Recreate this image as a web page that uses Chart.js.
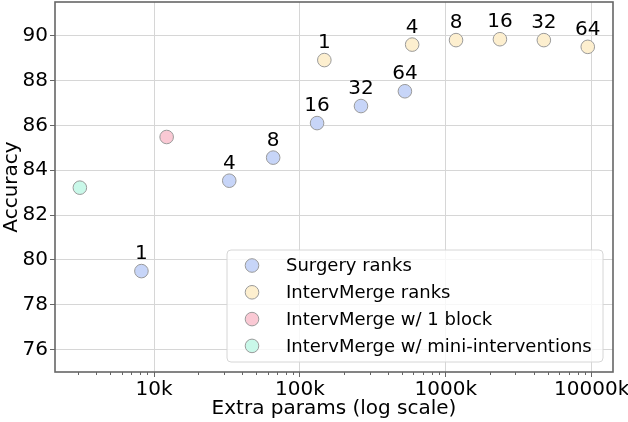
<!DOCTYPE html>
<html>
<head>
<meta charset="utf-8">
<script src="https://cdn.jsdelivr.net/npm/chart.js@4.4.1/dist/chart.umd.min.js"></script>
<style>
  html, body { margin: 0; padding: 0; background: #fff; }
  #wrap { width: 628px; height: 422px; }
</style>
</head>
<body>
<div id="wrap"><canvas id="mainChart" width="628" height="422"></canvas></div>
<script>
// --- Data ---
const surgeryParams = [8192, 32768, 65536, 131072, 262144, 524288];
const surgeryAcc    = [79.5, 83.53, 84.56, 86.1, 86.86, 87.52];
const surgeryRanks  = ['1', '4', '8', '16', '32', '64'];

const mergeParams = [147000, 588000, 1175000, 2350000, 4700000, 9400000];
const mergeAcc    = [88.91, 89.6, 89.8, 89.84, 89.8, 89.5];
const mergeRanks  = ['1', '4', '8', '16', '32', '64'];

const blockParams = [12200];
const blockAcc    = [85.48];

const miniParams = [3100];
const miniAcc    = [83.22];

const seriesNames = ['Surgery ranks', 'IntervMerge ranks', 'IntervMerge w/ 1 block', 'IntervMerge w/ mini-interventions'];
const seriesColors = ['#c7d5f8', '#fdefcf', '#fac9d4', '#c9f8e9'];

const xTickValues = [10000, 100000, 1000000, 10000000];
const xTickLabels = ['10k', '100k', '1000k', '10000k'];
const yTickValues = [76, 78, 80, 82, 84, 86, 88, 90];

const FONT = 'DejaVu Sans';

function toPoints(xs, ys) {
	return xs.map((x, i) => ({ x: x, y: ys[i] }));
}

const datasets = [
	{ label: seriesNames[0], data: toPoints(surgeryParams, surgeryAcc), ranks: surgeryRanks },
	{ label: seriesNames[1], data: toPoints(mergeParams, mergeAcc), ranks: mergeRanks },
	{ label: seriesNames[2], data: toPoints(blockParams, blockAcc) },
	{ label: seriesNames[3], data: toPoints(miniParams, miniAcc) }
].map((d, i) => Object.assign(d, {
	backgroundColor: seriesColors[i],
	borderColor: '#9a9a9a',
	borderWidth: 1,
	pointRadius: 6.8,
	pointHoverRadius: 6.8
}));

// --- pin the plot area to the figure's frame ---
const pinArea = {
	id: 'pinArea',
	afterLayout(chart) {
		const top = 2;
		const a = chart.chartArea;
		a.top = top;
		a.height = a.bottom - top;
		const y = chart.scales.y;
		y.top = top;
		y.height = y.bottom - top;
		y.configure();
	}
};

// --- rank labels above points ---
const rankLabels = {
	id: 'rankLabels',
	afterDatasetsDraw(chart) {
		const ctx = chart.ctx;
		ctx.save();
		ctx.font = '20px "' + FONT + '"';
		ctx.fillStyle = '#000';
		ctx.textAlign = 'center';
		ctx.textBaseline = 'alphabetic';
		chart.data.datasets.forEach((ds, i) => {
			if (!ds.ranks) return;
			chart.getDatasetMeta(i).data.forEach((pt, j) => {
				ctx.fillText(ds.ranks[j], pt.x, pt.y - 12);
			});
		});
		ctx.restore();
	}
};

// --- frame, minor ticks, legend box ---
const frameAndLegend = {
	id: 'frameAndLegend',
	afterDraw(chart) {
		const ctx = chart.ctx;
		const a = chart.chartArea;
		const xs = chart.scales.x;
		ctx.save();

		// minor ticks on log axis
		ctx.strokeStyle = '#666';
		ctx.lineWidth = 1;
		for (let e = 3; e <= 7; e++) {
			for (let m = 2; m <= 9; m++) {
				const v = m * Math.pow(10, e);
				if (v < xs.min || v > xs.max) continue;
				const px = Math.round(xs.getPixelForValue(v)) + 0.5;
				ctx.beginPath();
				ctx.moveTo(px, a.bottom);
				ctx.lineTo(px, a.bottom + 3);
				ctx.stroke();
			}
		}

		// spines
		ctx.strokeStyle = '#666';
		ctx.lineWidth = 1.6;
		ctx.strokeRect(a.left, a.top, a.right - a.left, a.bottom - a.top);

		// legend
		const bx = 227, by = 250, bw = 376, bh = 112, r = 4;
		ctx.beginPath();
		ctx.moveTo(bx + r, by);
		ctx.arcTo(bx + bw, by, bx + bw, by + bh, r);
		ctx.arcTo(bx + bw, by + bh, bx, by + bh, r);
		ctx.arcTo(bx, by + bh, bx, by, r);
		ctx.arcTo(bx, by, bx + bw, by, r);
		ctx.closePath();
		ctx.fillStyle = 'rgba(255,255,255,0.8)';
		ctx.fill();
		ctx.strokeStyle = '#d6d6d6';
		ctx.lineWidth = 1;
		ctx.stroke();

		ctx.font = '18px "' + FONT + '"';
		ctx.textAlign = 'left';
		ctx.textBaseline = 'middle';
		seriesNames.forEach((name, i) => {
			const cy = 265.5 + i * 26.8;
			ctx.beginPath();
			ctx.arc(252, cy, 6.8, 0, Math.PI * 2);
			ctx.fillStyle = seriesColors[i];
			ctx.fill();
			ctx.strokeStyle = '#9a9a9a';
			ctx.stroke();
			ctx.fillStyle = '#000';
			ctx.fillText(name, 286, cy + 1);
		});
		ctx.restore();
	}
};

const chartOptions = {
	responsive: false,
	animation: false,
	layout: { padding: { left: 0, right: 15, top: 2, bottom: 0 } },
	plugins: { legend: { display: false }, tooltip: { enabled: false } },
	scales: {
		x: {
			type: 'logarithmic',
			min: 2094,
			max: 14000000,
			afterBuildTicks: (s) => { s.ticks = xTickValues.map(v => ({ value: v })); },
			afterFit: (s) => { s.height = 50; s.paddingLeft = 0; s.paddingRight = 0; },
			ticks: {
				color: '#000',
				font: { family: FONT, size: 20 },
				padding: 1,
				maxRotation: 0,
				autoSkip: false,
				callback: (v) => xTickLabels[xTickValues.indexOf(v)] || ''
			},
			grid: { color: '#d6d6d6', lineWidth: 1, tickColor: '#666', tickLength: 5 },
			border: { display: false },
			title: {
				display: true,
				text: 'Extra params (log scale)',
				color: '#000',
				font: { family: FONT, size: 20 },
				padding: { top: 0, bottom: 1 }
			}
		},
		y: {
			min: 75,
			max: 91.5,
			afterBuildTicks: (s) => { s.ticks = yTickValues.map(v => ({ value: v })); },
			afterFit: (s) => { s.width = 55; s.paddingTop = 0; s.paddingBottom = 0; },
			ticks: {
				color: '#000',
				font: { family: FONT, size: 20 },
				padding: 2
			},
			grid: { color: '#d6d6d6', lineWidth: 1, tickColor: '#666', tickLength: 5 },
			border: { display: false },
			title: {
				display: true,
				text: 'Accuracy',
				color: '#000',
				font: { family: FONT, size: 20 },
				padding: { top: 0, bottom: 0 }
			}
		}
	}
};

new Chart(document.getElementById('mainChart'), {
	type: 'scatter',
	data: { datasets: datasets },
	options: chartOptions,
	plugins: [pinArea, rankLabels, frameAndLegend]
});
</script>
</body>
</html>
